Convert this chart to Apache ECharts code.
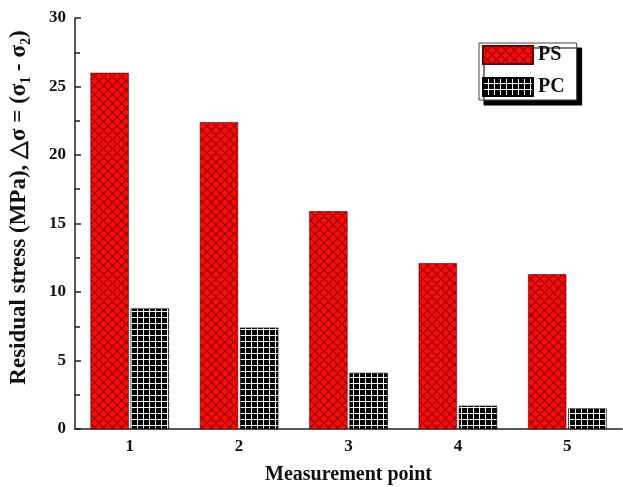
<!DOCTYPE html>
<html>
<head>
<meta charset="utf-8">
<script src="https://cdn.jsdelivr.net/npm/echarts@6/dist/echarts.min.js"></script>
<style>
  html, body { margin: 0; padding: 0; background: #fff; }
  #chart { width: 623px; height: 487px; }
</style>
</head>
<body>
<div id="chart"></div>
<script>
  // data
  var points = ['1', '2', '3', '4', '5'];
  var psValues = [26.0, 22.4, 15.9, 12.1, 11.3];
  var pcValues = [8.8, 7.4, 4.1, 1.7, 1.5];

  // hatch fills
  function psPattern() {
    var c = document.createElement('canvas');
    c.width = 9; c.height = 9;
    var g = c.getContext('2d');
    g.fillStyle = '#ff0a0a';
    g.fillRect(0, 0, 9, 9);
    g.strokeStyle = '#8a0000';
    g.lineWidth = 1.2;
    g.beginPath();
    g.moveTo(0, 0); g.lineTo(9, 9);
    g.moveTo(9, 0); g.lineTo(0, 9);
    g.stroke();
    return c;
  }
  function pcPattern() {
    var c = document.createElement('canvas');
    c.width = 6; c.height = 6;
    var g = c.getContext('2d');
    g.fillStyle = '#000';
    g.fillRect(0, 0, 6, 6);
    g.fillStyle = '#fff';
    g.fillRect(5, 0, 1, 6);
    g.fillRect(0, 5, 6, 1);
    return c;
  }

  var chart = echarts.init(document.getElementById('chart'));
  var font = 'Liberation Serif';

  var option = {
    animation: false,
    grid: { left: 75, right: 1, top: 18, bottom: 58, outerBoundsMode: 'none' },
    legend: {
      data: ['PS', 'PC'],
      orient: 'vertical',
      left: 479,
      top: 43,
      icon: 'rect',
      itemWidth: 50,
      itemHeight: 18,
      itemGap: 12,
      padding: [2, 12, 3, 3],
      backgroundColor: '#fff',
      borderColor: '#444',
      borderWidth: 1,
      shadowColor: '#000',
      shadowOffsetX: 5,
      shadowOffsetY: 5,
      shadowBlur: 0,
      textStyle: { fontFamily: font, fontWeight: 'bold', fontSize: 20, color: '#111' }
    },
    xAxis: {
      type: 'category',
      data: points,
      name: 'Measurement point',
      nameLocation: 'middle',
      nameGap: 36,
      nameTextStyle: { fontFamily: font, fontWeight: 'bold', fontSize: 20, color: '#111' },
      axisLine: { lineStyle: { color: '#222', width: 1.5 } },
      axisTick: { inside: true, length: 5, lineStyle: { color: '#222', width: 1.5 } },
      axisLabel: { fontFamily: font, fontWeight: 'bold', fontSize: 17, color: '#111', margin: 9 }
    },
    yAxis: {
      type: 'value',
      min: 0,
      max: 30,
      interval: 5,
      name: '{a|Residual stress (MPa), \u25B3\u03C3 = (\u03C3}{s|1}{a| - \u03C3}{s|2}{a|)}',
      nameLocation: 'middle',
      nameGap: 42,
      nameTextStyle: {
        padding: [0, 0, 0, 32],
        rich: {
          a: { fontFamily: font, fontWeight: 'bold', fontSize: 23, color: '#111', lineHeight: 28 },
          s: { fontFamily: font, fontWeight: 'bold', fontSize: 14, color: '#111', lineHeight: 28, verticalAlign: 'bottom', padding: [10, 0, 0, 0] }
        }
      },
      axisLine: { show: true, lineStyle: { color: '#222', width: 1.5 } },
      axisTick: { show: true, inside: true, length: 6, lineStyle: { color: '#222', width: 1.5 } },
      minorTick: { show: true, splitNumber: 2, length: 5, lineStyle: { color: '#222', width: 1.5 } },
      splitLine: { show: false },
      axisLabel: { fontFamily: font, fontWeight: 'bold', fontSize: 17, color: '#111', margin: 9 }
    },
    series: [
      {
        name: 'PS',
        type: 'bar',
        data: psValues,
        barWidth: '35%',
        barGap: '5%',
        itemStyle: { color: { image: psPattern(), repeat: 'repeat' }, borderColor: '#600', borderWidth: 0.6 }
      },
      {
        name: 'PC',
        type: 'bar',
        data: pcValues,
        barWidth: '35%',
        itemStyle: { color: { image: pcPattern(), repeat: 'repeat' }, borderColor: '#000', borderWidth: 0.6 }
      }
    ]
  };

  chart.setOption(option);
</script>
</body>
</html>
